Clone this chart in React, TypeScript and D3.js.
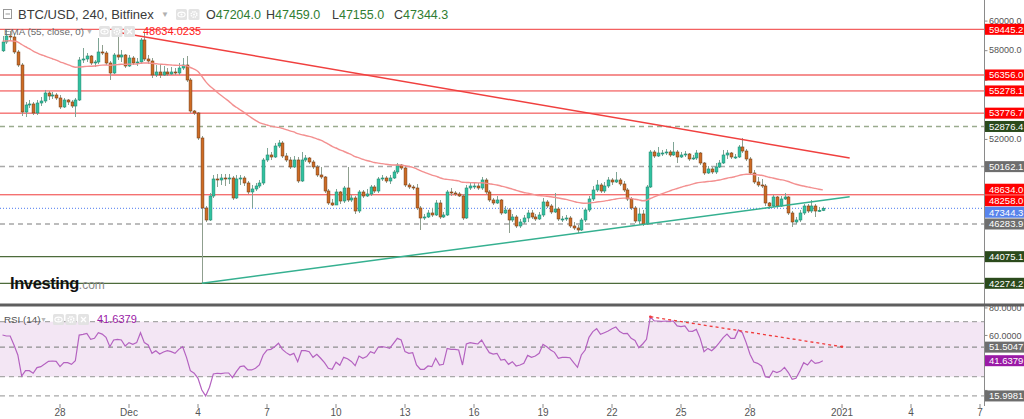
import React from "react";
import * as d3 from "d3";

const FONT = "'Liberation Sans', Arial, Helvetica, sans-serif";

// ---------- DATA (BTC/USD, 240 min, Bitfinex) ----------
const firstOpen = 57990;
const firstCandleUTC = Date.UTC(2020, 10, 25, 12); // 4h candles from here

const closes = [
  58587, 58992, 58925, 57911, 57032, 53855, 54328, 54396, 53787, 54463,
  54598, 55139, 54936, 55004, 54801, 54193, 54666, 54531, 54260, 54666,
  57370, 57438, 57640, 57167, 57235, 57911, 57843, 57167, 56491, 57708,
  57573, 57708, 56964, 57505, 57167, 57235, 58722, 57438, 57302, 56356,
  56559, 56356, 56559, 56424, 56559, 56491, 56829, 57032, 56018, 53922,
  53787, 52097, 47365, 46554, 48176, 49326, 49258, 49393, 49326, 49393,
  48041, 49326, 49393, 49055, 48447, 48650, 48852, 49055, 50610, 50948,
  50813, 51556, 51759, 50880, 50610, 50137, 50610, 49190, 50610, 50745,
  50475, 50137, 49596, 49461, 48514, 47703, 47568, 48447, 47838, 48717,
  47906, 48041, 47162, 48447, 48176, 48312, 48785, 48514, 49326, 49393,
  49190, 49393, 49799, 50272, 50069, 48920, 48785, 48717, 47365, 46689,
  46757, 47027, 46892, 47703, 46757, 46892, 48447, 48379, 48312, 48176,
  46689, 48717, 48852, 48852, 48717, 49258, 48447, 47906, 47703, 47906,
  47027, 47230, 46554, 46757, 46148, 46419, 46689, 47027, 46757, 46622,
  46892, 47771, 47500, 47095, 47298, 46622, 46622, 46689, 46148, 46013,
  45878, 46554, 47230, 47974, 48582, 48920, 48514, 48852, 49258, 49123,
  49258, 48988, 48582, 47974, 47365, 46486, 46960, 46284, 48785, 51151,
  50880, 51083, 51083, 51151, 50948, 51151, 50813, 50948, 51016, 50678,
  50745, 51083, 50407, 49731, 50002, 49799, 50137, 50407, 50948, 51083,
  50813, 50813, 51489, 51218, 50678, 49731, 49123, 48920, 48852, 47703,
  47500, 48109, 47500, 47974, 48109, 47027, 46419, 46554, 47027, 47500,
  47162, 47500, 47162, 47204, 47344.3,
];

const highs = [
  58992, 59398, 59330, 59128, 58046, 57167, 54531, 54666, 54531, 54666,
  54869, 55342, 55274, 55207, 55139, 55004, 54801, 54734, 54666, 54801,
  57573, 58181, 57843, 57708, 57370, 58857, 58384, 57978, 57302, 57843,
  59195, 58046, 57776, 57708, 57640, 57505, 58857, 59195, 57708, 57505,
  57032, 57100, 56964, 56829, 56897, 56829, 57167, 57505, 57640, 56153,
  53990, 53855, 52232, 47500, 48379, 49596, 49664, 49664, 49664, 49664,
  49528, 49596, 49596, 49528, 49190, 48920, 49055, 49258, 50745, 51421,
  51151, 51759, 51962, 51894, 51083, 50813, 50880, 50813, 51151, 50948,
  50813, 50610, 50272, 50137, 49528, 48650, 47974, 48650, 48514, 48852,
  50137, 48244, 48176, 48582, 48582, 48650, 48920, 48920, 49461, 49596,
  49528, 49596, 49934, 50407, 50340, 50204, 49055, 48920, 48988, 47500,
  46960, 47230, 47365, 47906, 47906, 47095, 48582, 48717, 48514, 48447,
  48312, 48920, 49055, 49123, 49055, 49461, 49393, 48582, 48041, 48176,
  47974, 47500, 47365, 46960, 46892, 46622, 46892, 47230, 47230, 46960,
  47095, 48041, 47906, 47636, 48379, 47433, 46824, 46892, 46824, 46419,
  46216, 46689, 47365, 48176, 48852, 49258, 49055, 49123, 49461, 49393,
  49799, 49393, 49190, 48717, 48109, 47500, 47365, 47230, 48920, 51286,
  51286, 51489, 51286, 51354, 51286, 51827, 51286, 51151, 51218, 51083,
  50948, 51286, 51151, 50475, 50204, 50137, 50407, 50610, 51286, 51286,
  51151, 51016, 51624, 52097, 51354, 50813, 49934, 49461, 49326, 48988,
  47771, 48244, 48176, 48176, 48379, 48176, 47162, 46757, 47230, 47636,
  47636, 47906, 47636, 47433, 47459,
];

const lows = [
  57911, 58452, 58654, 57776, 56897, 53584, 53517, 54125, 53652, 53652,
  54260, 54463, 54666, 54734, 54666, 54058, 54125, 54328, 54125, 53517,
  54598, 57167, 57235, 57032, 56897, 57100, 57708, 57032, 56018, 56424,
  57370, 57235, 56829, 56897, 57032, 56964, 57100, 57302, 57100, 56153,
  56221, 56153, 56288, 56288, 56356, 56356, 56356, 56694, 55883, 53787,
  53652, 51962, 42274.2, 46419, 46486, 48041, 48785, 48920, 48852, 48988,
  47906, 47974, 48920, 48852, 48312, 47365, 48514, 48717, 48920, 50475,
  50610, 50745, 51421, 50745, 50475, 50002, 50069, 49055, 49123, 50475,
  50340, 50002, 49461, 49326, 48379, 47568, 47500, 47568, 47636, 47703,
  47771, 47771, 46960, 47027, 48041, 48109, 48176, 48379, 48379, 49190,
  49055, 48988, 49326, 49664, 49934, 48785, 48650, 48582, 47230, 45878,
  46554, 46689, 46757, 46824, 46622, 46689, 46824, 48176, 48176, 48109,
  46554, 46622, 48582, 48650, 48582, 48582, 48312, 47771, 47568, 47636,
  46892, 46960, 45675, 46419, 46013, 46013, 46284, 46419, 46622, 46486,
  46554, 46757, 47365, 46960, 47027, 46486, 46419, 46486, 46013, 45878,
  45675, 45810, 46419, 47095, 47838, 48447, 48379, 48379, 48717, 48920,
  49055, 48852, 48447, 47838, 47230, 46351, 46284, 46148, 46216, 48717,
  50745, 50813, 50880, 50948, 50813, 50880, 50407, 50745, 50813, 50542,
  50610, 50610, 50272, 49596, 49664, 49664, 49664, 50069, 50340, 50678,
  50678, 50678, 50745, 51083, 50542, 49596, 48988, 48785, 48717, 47500,
  47298, 47433, 47365, 47433, 47906, 46892, 46081, 46284, 46419, 46892,
  47027, 47027, 46757, 47095, 47155,
];

const rsiValues = [
  60.3, 59.6, 59.6, 53, 45.8, 30.5, 34.4, 34.4, 32.5, 36.6,
  37.3, 39.2, 41.2, 41.4, 41.2, 37.3, 40.2, 40.2, 39, 41.6,
  60.3, 60.8, 61.5, 57.2, 57.9, 62, 61, 58.6, 51.8, 56.7,
  57.2, 56.7, 52.3, 54.8, 53.5, 54.8, 62, 54.8, 53.1, 47,
  48.9, 46.5, 48, 48.9, 48.2, 47, 49.9, 51.8, 44.1, 34.4,
  32.5, 28.8, 20.3, 16, 22.3, 32, 32.5, 32.2, 32.7, 32.7,
  29.3, 33.7, 37.3, 37.8, 34.9, 34.9, 36.1, 38.5, 45.8, 49.4,
  49.9, 51.8, 54.3, 49.9, 47.5, 45.8, 47, 40.9, 48.9, 48.9,
  48.2, 44.1, 46.3, 43.4, 40.2, 36.1, 35.4, 40.5, 38.3, 44.1,
  43.1, 41.1, 38, 45, 43.4, 44.6, 48.2, 47, 51.4, 51.8,
  51.4, 50.6, 54.3, 57.9, 56.7, 48.2, 47, 47.5, 38.5, 35.4,
  35.4, 37.8, 37.3, 43.4, 38.5, 39, 50.6, 49.9, 49.9, 49.4,
  38.5, 53.8, 54.8, 54.3, 53.8, 56.7, 51.8, 47.5, 46.5, 47,
  42.1, 42.6, 39, 40.9, 37.8, 38.5, 39.7, 45.5, 44.1, 45,
  47, 53.5, 51.8, 49.4, 47.7, 43.4, 44.1, 44.1, 43.8, 40.2,
  36.8, 45.8, 49.4, 58.6, 62.8, 64.9, 60.8, 62, 63.2, 64.9,
  66.1, 62.8, 61.3, 61.5, 57.9, 56.4, 51.1, 53.8, 57.2, 73.5,
  70.5, 70.5, 70.3, 70.5, 70.3, 70.5, 66.9, 66.4, 66.9, 63.2,
  63, 64.4, 57.9, 48.2, 50.6, 48.9, 51.4, 54.8, 58.4, 61,
  57.9, 57.9, 64, 62, 54.8, 46.3, 40.7, 39.7, 37.8, 30,
  29.3, 34.1, 33, 34.1, 36.8, 33, 28.1, 28.8, 34.1, 40.2,
  38.5, 42.1, 39.7, 40.2, 41.6379,
];

const emaPeriod = 55;
const emaSeed = 58650;

const levelValues = [59445.2, 56356.0, 55278.1, 53776.7, 52876.4, 50162.1, 48258.0, 46283.9, 44075.1, 42274.2];
const levelKinds = ["red", "redThick", "red", "red", "greenDash", "grayDash", "red", "darkDash", "green", "green"];
const lastPrice = 47344.3;
const emaLabelValue = 48634.0;
const emaLegendValue = "48634.0235";

const priceTicks = [42000, 44000, 46000, 48000, 50000, 52000, 54000, 56000, 58000, 60000];
const rsiTicks = [20, 40, 60, 80];
const rsiLevelValues = [70, 51.5047, 30, 15.9981];
const rsiLastValue = 41.6379;

const xTickDates = [
  Date.UTC(2020, 10, 28), Date.UTC(2020, 11, 1), Date.UTC(2020, 11, 4), Date.UTC(2020, 11, 7),
  Date.UTC(2020, 11, 10), Date.UTC(2020, 11, 13), Date.UTC(2020, 11, 16), Date.UTC(2020, 11, 19),
  Date.UTC(2020, 11, 22), Date.UTC(2020, 11, 25), Date.UTC(2020, 11, 28), Date.UTC(2021, 0, 1),
  Date.UTC(2021, 0, 4), Date.UTC(2021, 0, 7),
];
const xTickLabels = ["28", "Dec", "4", "7", "10", "13", "16", "19", "22", "25", "28", "2021", "4", "7"];

// trend lines: [candle index, value]
const redTrend = [[30, 59240], [221, 50748]];
const tealTrend = [[52, 42274.2], [221, 48123]];
const rsiTrend = [[169, 73.6], [219, 51.8]];

const ohlcLetters = ["O", "H", "L", "C"];
const ohlcValues = ["47204.0", "47459.0", "47155.0", "47344.3"];

// ---------- STYLES ----------
const levelStyle: Record<string, { stroke: string; width: number; dash?: string; bg: string }> = {
  red: { stroke: "#f03a3a", width: 1, bg: "#ff0000" },
  redThick: { stroke: "#f59090", width: 2.2, bg: "#ff0000" },
  greenDash: { stroke: "#9aab8e", width: 1.5, dash: "5,4", bg: "#2b4a1c" },
  grayDash: { stroke: "#a9a9a9", width: 1.5, dash: "5,4", bg: "#6e6e6e" },
  darkDash: { stroke: "#7a7a7a", width: 1.2, dash: "5,4", bg: "#6e6e6e" },
  green: { stroke: "#4d6b3b", width: 1.2, bg: "#2b4a1c" },
};

const W = 1024;
const H = 419;
const AX = 984.5;
const MAIN_BOTTOM = 303;
const LABEL_H = 11;

function Icon({ x, y, kind }: { x: number; y: number; kind: string }) {
  return (
    <g>
      <rect x={x} y={y} width={11} height={11} rx={1.5} fill="#e3e3e3" />
      {kind === "eye" && (
        <g>
          <ellipse cx={x + 5.5} cy={y + 5.5} rx={3.6} ry={2.4} fill="none" stroke="#fff" strokeWidth={1.1} />
          <circle cx={x + 5.5} cy={y + 5.5} r={1.1} fill="#fff" />
        </g>
      )}
      {kind === "gear" && (
        <g>
          <circle cx={x + 5.5} cy={y + 5.5} r={2.8} fill="none" stroke="#fff" strokeWidth={1.6} strokeDasharray="1.4,0.8" />
          <circle cx={x + 5.5} cy={y + 5.5} r={1} fill="#fff" />
        </g>
      )}
      {kind === "close" && (
        <g stroke="#fff" strokeWidth={1.3}>
          <line x1={x + 3} y1={y + 3} x2={x + 8} y2={y + 8} />
          <line x1={x + 8} y1={y + 3} x2={x + 3} y2={y + 8} />
        </g>
      )}
    </g>
  );
}

function stack(items: { y: number; text: string; bg: string }[], h: number) {
  const sorted = [...items].sort((a, b) => a.y - b.y);
  let prev = -Infinity;
  return sorted.map((it) => {
    const cy = Math.max(it.y, prev + h + 0.5);
    prev = cy;
    return { ...it, cy };
  });
}

export default function App() {
  const STEP = 4 * 3600 * 1000;
  const times = closes.map((_, i) => new Date(firstCandleUTC + i * STEP));
  const opens = closes.map((_, i) => (i === 0 ? firstOpen : closes[i - 1]));

  const x = d3
    .scaleUtc()
    .domain([new Date(Date.UTC(2020, 10, 28)), new Date(Date.UTC(2021, 0, 7))])
    .range([60, 980]);
  const y = d3.scaleLinear().domain([42274.2, 59445.2]).range([283.3, 29.3]);
  const ry = d3.scaleLinear().domain([30, 70]).range([376.7, 321.7]);
  const xi = (i: number) => x(new Date(firstCandleUTC + i * STEP));

  // EMA(55)
  const alpha = 2 / (emaPeriod + 1);
  const ema: number[] = [];
  closes.forEach((c, i) => {
    const prev = i === 0 ? emaSeed : ema[i - 1];
    ema.push(prev + alpha * (c - prev));
  });
  const emaLine = d3
    .line<number>()
    .x((_, i) => x(times[i]))
    .y((d) => y(d))
    .curve(d3.curveMonotoneX)(ema) as string;

  const rsiLine = d3
    .line<number>()
    .x((_, i) => x(times[i]))
    .y((d) => ry(d))(rsiValues) as string;

  const mainLabels = stack(
    [
      ...levelValues.map((v, i) => ({ y: y(v), text: v.toFixed(1), bg: levelStyle[levelKinds[i]].bg })),
      { y: y(lastPrice), text: lastPrice.toFixed(1), bg: "#5884ec" },
      { y: y(emaLabelValue), text: emaLabelValue.toFixed(1), bg: "#ff0000" },
    ],
    LABEL_H
  );

  const rsiLabels = stack(
    [
      { y: ry(51.5047), text: "51.5047", bg: "#6e6e6e" },
      { y: ry(rsiLastValue), text: rsiLastValue.toFixed(4), bg: "#9a1aa6" },
      { y: ry(15.9981), text: "15.9981", bg: "#6e6e6e" },
    ],
    LABEL_H
  );
  const allLabels = [...mainLabels, ...rsiLabels];
  const hidden = (ty: number) => allLabels.some((l) => Math.abs(l.cy - ty) < 7);

  const bodyW = 2.8;

  return (
    <svg
      width={W}
      height={H}
      viewBox={`0 0 ${W} ${H}`}
      style={{ position: "absolute", left: 0, top: 0, background: "#fff", fontFamily: FONT }}
    >
      <defs>
        <clipPath id="mainClip">
          <rect x={0} y={0} width={AX} height={MAIN_BOTTOM} />
        </clipPath>
        <clipPath id="rsiClip">
          <rect x={0} y={307} width={AX} height={98} />
        </clipPath>
      </defs>
      <rect x={0} y={0} width={W} height={H} fill="#fff" />

      {/* ---------- MAIN PANEL ---------- */}
      <g clipPath="url(#mainClip)">
        {levelValues.map((v, i) => {
          const s = levelStyle[levelKinds[i]];
          return (
            <line
              key={"lv" + i}
              x1={0}
              x2={AX}
              y1={y(v)}
              y2={y(v)}
              stroke={s.stroke}
              strokeWidth={s.width}
              strokeDasharray={s.dash}
            />
          );
        })}
        <line x1={0} x2={AX} y1={y(lastPrice)} y2={y(lastPrice)} stroke="#4a78f0" strokeWidth={1} strokeDasharray="1,2" />

        {/* candles */}
        {closes.map((c, i) => {
          const o = opens[i];
          const up = c >= o;
          const cx = Math.round(x(times[i])) + 0.5;
          const top = y(Math.max(o, c));
          const bot = y(Math.min(o, c));
          return (
            <g key={"c" + i}>
              <line x1={cx} x2={cx} y1={y(highs[i])} y2={y(lows[i])} stroke={up ? "#7fa596" : "#8f9f8f"} strokeWidth={1} />
              <rect
                x={cx - bodyW / 2}
                y={top}
                width={bodyW}
                height={Math.max(1, bot - top)}
                fill={up ? "#2fc2a0" : "#cf6b22"}
                stroke={up ? "#1f8c73" : "#7c3f14"}
                strokeWidth={0.6}
              />
            </g>
          );
        })}

        {/* EMA */}
        <path d={emaLine} fill="none" stroke="#f39090" strokeWidth={1.4} />

        {/* trend lines */}
        <line
          x1={xi(redTrend[0][0])}
          y1={y(redTrend[0][1])}
          x2={xi(redTrend[1][0])}
          y2={y(redTrend[1][1])}
          stroke="#f0403f"
          strokeWidth={1.5}
        />
        <line
          x1={xi(tealTrend[0][0])}
          y1={y(tealTrend[0][1])}
          x2={xi(tealTrend[1][0])}
          y2={y(tealTrend[1][1])}
          stroke="#35b090"
          strokeWidth={1.5}
        />
      </g>

      {/* Investing.com logo */}
      <text x={10} y={289} fontSize={16.5} fontWeight="bold" fill="#111" letterSpacing={-0.4}>
        Investing
        <tspan fontSize={12} fontWeight="normal" fill="#888" letterSpacing={0}>
          .com
        </tspan>
      </text>

      {/* header line 1 */}
      <rect x={3.5} y={9.5} width={8} height={9} fill="none" stroke="#999" strokeWidth={1} />
      <line x1={5.5} x2={10} y1={14} y2={14} stroke="#999" strokeWidth={1} />
      <text x={18} y={19} fontSize={13} fill="#3a3a3a">
        BTC/USD, 240, Bitfinex
      </text>
      <text x={161} y={17} fontSize={8} fill="#b0b0b0">
        ▼
      </text>
      <Icon x={176} y={9} kind="eye" />
      <Icon x={188.5} y={9} kind="gear" />
      {ohlcLetters.map((letter, i) => {
        const xs = [206, 266, 332, 394];
        return (
          <text key={"oh" + i} x={xs[i]} y={19} fontSize={12.5} fill="#3a3a3a">
            {letter}
            <tspan fill="#2f7d32">{ohlcValues[i]}</tspan>
          </text>
        );
      })}

      {/* header line 2 */}
      <text x={4} y={34.5} fontSize={9.8} fill="#6a6a6a">
        EMA (55, close, 0)
      </text>
      <text x={86} y={34} fontSize={7} fill="#b8b8b8">
        ▼
      </text>
      <Icon x={99} y={26} kind="eye" />
      <Icon x={111.5} y={26} kind="gear" />
      <Icon x={124} y={26} kind="close" />
      <text x={143} y={35} fontSize={11} fill="#ff2020">
        {emaLegendValue}
      </text>

      {/* ---------- RSI PANEL ---------- */}
      <rect x={0} y={ry(70)} width={AX} height={ry(30) - ry(70)} fill="#f3e6f4" />
      {rsiLevelValues.map((v, i) => (
        <line
          key={"rl" + i}
          x1={0}
          x2={AX}
          y1={ry(v)}
          y2={ry(v)}
          stroke={v === 51.5047 ? "#8f8f8f" : "#a8a8a8"}
          strokeWidth={1.2}
          strokeDasharray="5,4"
        />
      ))}
      <g clipPath="url(#rsiClip)">
        <path d={rsiLine} fill="none" stroke="#b462c0" strokeWidth={1.2} />
        <line
          x1={xi(rsiTrend[0][0])}
          y1={ry(rsiTrend[0][1])}
          x2={xi(rsiTrend[1][0])}
          y2={ry(rsiTrend[1][1])}
          stroke="#f03a3a"
          strokeWidth={1.3}
          strokeDasharray="3,3"
        />
        <circle cx={xi(rsiTrend[0][0])} cy={ry(rsiTrend[0][1])} r={1.3} fill="#f03a3a" />
        <circle cx={xi(rsiTrend[1][0])} cy={ry(rsiTrend[1][1])} r={1.3} fill="#f03a3a" />
      </g>

      <text x={4} y={322.5} fontSize={9.8} fill="#555">
        RSI (14)
      </text>
      <text x={40} y={322} fontSize={7} fill="#b8b8b8">
        ▼
      </text>
      <Icon x={53} y={314} kind="eye" />
      <Icon x={65.5} y={314} kind="gear" />
      <Icon x={78} y={314} kind="close" />
      <text x={97} y={323} fontSize={11} fill="#9a1aa6">
        {rsiLastValue.toFixed(4)}
      </text>

      {/* ---------- RIGHT AXIS ---------- */}
      <line x1={AX} x2={AX} y1={0} y2={406} stroke="#8a8a8a" strokeWidth={1} />
      {priceTicks.map((p) => (
        <g key={"pt" + p}>
          <line x1={AX} x2={AX + 3} y1={y(p)} y2={y(p)} stroke="#8a8a8a" />
          {!hidden(y(p)) && (
            <text x={989} y={y(p) - 0.5} dy="0.35em" fontSize={9} fill="#555">
              {p.toFixed(1)}
            </text>
          )}
        </g>
      ))}
      {rsiTicks.map((p) => (
        <g key={"rt" + p}>
          <line x1={AX} x2={AX + 3} y1={ry(p)} y2={ry(p)} stroke="#8a8a8a" />
          {!hidden(ry(p)) && (
            <text x={989} y={ry(p)} dy="0.35em" fontSize={9} fill="#555">
              {p.toFixed(4)}
            </text>
          )}
        </g>
      ))}
      {allLabels.map((l, i) => (
        <g key={"lab" + i}>
          <rect x={AX + 0.5} y={l.cy - LABEL_H / 2} width={W - AX} height={LABEL_H} fill={l.bg} />
          <text x={989} y={l.cy} dy="0.35em" fontSize={9.5} fill="#fff">
            {l.text}
          </text>
        </g>
      ))}

      {/* panel separator */}
      <rect x={0} y={303.5} width={W} height={3} fill="#5e5e5e" />

      {/* ---------- X AXIS ---------- */}
      {xTickDates.map((d, i) => (
        <g key={"xt" + i}>
          <line x1={x(new Date(d))} x2={x(new Date(d))} y1={404} y2={408} stroke="#8a8a8a" />
          <text x={x(new Date(d))} y={416} textAnchor="middle" fontSize={10} fill="#555">
            {xTickLabels[i]}
          </text>
        </g>
      ))}
    </svg>
  );
}
